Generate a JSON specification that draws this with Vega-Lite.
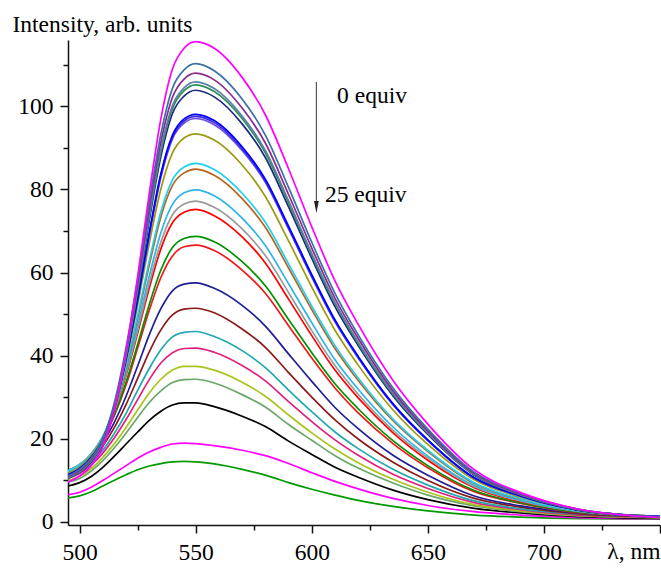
{
"$schema": "https://vega.github.io/schema/vega-lite/v6.json",
"width": 592, "height": 485,
"autosize": {"type": "none"},
"padding": {"left": 68, "top": 40, "right": 1, "bottom": 43},
"background": "white",
"config": {"view": {"stroke": null}, "font": "Liberation Serif, Times New Roman, serif"},
"datasets": {
"spectra": [
{"s":26,"x":495,"y":5.7},{"s":26,"x":500,"y":6.2},{"s":26,"x":505,"y":7.2},{"s":26,"x":510,"y":8.6},{"s":26,"x":515,"y":10.0},{"s":26,"x":520,"y":11.3},{"s":26,"x":525,"y":12.5},{"s":26,"x":530,"y":13.4},{"s":26,"x":535,"y":14.0},{"s":26,"x":540,"y":14.4},{"s":26,"x":545,"y":14.5},{"s":26,"x":550,"y":14.4},{"s":26,"x":558,"y":13.9},{"s":26,"x":570,"y":12.6},{"s":26,"x":580,"y":11.2},{"s":26,"x":590,"y":9.4},{"s":26,"x":600,"y":7.8},{"s":26,"x":610,"y":6.4},{"s":26,"x":620,"y":5.15},{"s":26,"x":635,"y":3.7},{"s":26,"x":650,"y":2.6},{"s":26,"x":670,"y":1.6},{"s":26,"x":690,"y":1.1},{"s":26,"x":715,"y":0.73},{"s":26,"x":750,"y":0.58},
{"s":25,"x":495,"y":6.5},{"s":25,"x":500,"y":7.1},{"s":25,"x":505,"y":8.3},{"s":25,"x":510,"y":9.9},{"s":25,"x":515,"y":11.7},{"s":25,"x":520,"y":13.5},{"s":25,"x":525,"y":15.3},{"s":25,"x":530,"y":16.8},{"s":25,"x":535,"y":17.9},{"s":25,"x":540,"y":18.7},{"s":25,"x":545,"y":18.9},{"s":25,"x":550,"y":18.8},{"s":25,"x":558,"y":18.3},{"s":25,"x":570,"y":17.2},{"s":25,"x":580,"y":15.9},{"s":25,"x":590,"y":14.0},{"s":25,"x":600,"y":11.8},{"s":25,"x":610,"y":9.7},{"s":25,"x":620,"y":7.9},{"s":25,"x":635,"y":5.6},{"s":25,"x":650,"y":3.9},{"s":25,"x":670,"y":2.4},{"s":25,"x":690,"y":1.6},{"s":25,"x":715,"y":1.0},{"s":25,"x":750,"y":0.7},
{"s":24,"x":495,"y":8.6},{"s":24,"x":500,"y":9.4},{"s":24,"x":505,"y":10.9},{"s":24,"x":510,"y":13.1},{"s":24,"x":515,"y":15.8},{"s":24,"x":520,"y":18.7},{"s":24,"x":525,"y":21.6},{"s":24,"x":530,"y":24.4},{"s":24,"x":535,"y":26.6},{"s":24,"x":540,"y":28.1},{"s":24,"x":545,"y":28.6},{"s":24,"x":550,"y":28.6},{"s":24,"x":558,"y":27.7},{"s":24,"x":570,"y":25.4},{"s":24,"x":580,"y":22.9},{"s":24,"x":590,"y":19.4},{"s":24,"x":600,"y":16.2},{"s":24,"x":610,"y":13.1},{"s":24,"x":620,"y":10.7},{"s":24,"x":635,"y":7.6},{"s":24,"x":650,"y":5.3},{"s":24,"x":670,"y":3.2},{"s":24,"x":690,"y":2.1},{"s":24,"x":715,"y":1.2},{"s":24,"x":750,"y":0.8},
{"s":23,"x":495,"y":9.5},{"s":23,"x":500,"y":10.4},{"s":23,"x":505,"y":12.2},{"s":23,"x":510,"y":14.7},{"s":23,"x":515,"y":17.8},{"s":23,"x":520,"y":21.3},{"s":23,"x":525,"y":25.1},{"s":23,"x":530,"y":28.7},{"s":23,"x":535,"y":31.5},{"s":23,"x":540,"y":33.5},{"s":23,"x":545,"y":34.2},{"s":23,"x":550,"y":34.3},{"s":23,"x":558,"y":33.4},{"s":23,"x":570,"y":30.6},{"s":23,"x":580,"y":27.6},{"s":23,"x":590,"y":23.4},{"s":23,"x":600,"y":19.6},{"s":23,"x":610,"y":15.9},{"s":23,"x":620,"y":12.9},{"s":23,"x":635,"y":9.3},{"s":23,"x":650,"y":6.4},{"s":23,"x":670,"y":3.8},{"s":23,"x":690,"y":2.4},{"s":23,"x":715,"y":1.4},{"s":23,"x":750,"y":1.0},
{"s":22,"x":495,"y":10.0},{"s":22,"x":500,"y":10.9},{"s":22,"x":505,"y":12.8},{"s":22,"x":510,"y":15.5},{"s":22,"x":515,"y":18.8},{"s":22,"x":520,"y":22.7},{"s":22,"x":525,"y":26.9},{"s":22,"x":530,"y":31.0},{"s":22,"x":535,"y":34.3},{"s":22,"x":540,"y":36.5},{"s":22,"x":545,"y":37.4},{"s":22,"x":550,"y":37.4},{"s":22,"x":558,"y":36.5},{"s":22,"x":570,"y":33.6},{"s":22,"x":580,"y":30.2},{"s":22,"x":590,"y":25.7},{"s":22,"x":600,"y":21.4},{"s":22,"x":610,"y":17.5},{"s":22,"x":620,"y":14.2},{"s":22,"x":635,"y":10.2},{"s":22,"x":650,"y":7.1},{"s":22,"x":670,"y":4.1},{"s":22,"x":690,"y":2.6},{"s":22,"x":715,"y":1.5},{"s":22,"x":750,"y":1.0},
{"s":21,"x":495,"y":10.5},{"s":21,"x":500,"y":11.6},{"s":21,"x":505,"y":13.6},{"s":21,"x":510,"y":16.5},{"s":21,"x":515,"y":20.2},{"s":21,"x":520,"y":24.6},{"s":21,"x":525,"y":29.4},{"s":21,"x":530,"y":34.2},{"s":21,"x":535,"y":38.2},{"s":21,"x":540,"y":40.7},{"s":21,"x":545,"y":41.7},{"s":21,"x":550,"y":41.8},{"s":21,"x":558,"y":40.8},{"s":21,"x":570,"y":37.6},{"s":21,"x":580,"y":33.9},{"s":21,"x":590,"y":28.9},{"s":21,"x":600,"y":24.1},{"s":21,"x":610,"y":19.7},{"s":21,"x":620,"y":16.0},{"s":21,"x":635,"y":11.4},{"s":21,"x":650,"y":8.0},{"s":21,"x":670,"y":4.6},{"s":21,"x":690,"y":2.9},{"s":21,"x":715,"y":1.6},{"s":21,"x":750,"y":1.1},
{"s":20,"x":495,"y":10.9},{"s":20,"x":500,"y":12.0},{"s":20,"x":505,"y":14.1},{"s":20,"x":510,"y":17.2},{"s":20,"x":515,"y":21.3},{"s":20,"x":520,"y":26.1},{"s":20,"x":525,"y":31.6},{"s":20,"x":530,"y":36.9},{"s":20,"x":535,"y":41.4},{"s":20,"x":540,"y":44.5},{"s":20,"x":545,"y":45.6},{"s":20,"x":550,"y":45.8},{"s":20,"x":558,"y":44.6},{"s":20,"x":570,"y":41.2},{"s":20,"x":580,"y":37.1},{"s":20,"x":590,"y":31.7},{"s":20,"x":600,"y":26.5},{"s":20,"x":610,"y":21.6},{"s":20,"x":620,"y":17.6},{"s":20,"x":635,"y":12.6},{"s":20,"x":650,"y":8.8},{"s":20,"x":670,"y":5.0},{"s":20,"x":690,"y":3.1},{"s":20,"x":715,"y":1.8},{"s":20,"x":750,"y":1.1},
{"s":19,"x":495,"y":11.5},{"s":19,"x":500,"y":12.7},{"s":19,"x":505,"y":14.8},{"s":19,"x":510,"y":18.2},{"s":19,"x":515,"y":22.7},{"s":19,"x":520,"y":28.2},{"s":19,"x":525,"y":34.5},{"s":19,"x":530,"y":40.9},{"s":19,"x":535,"y":46.2},{"s":19,"x":540,"y":49.8},{"s":19,"x":545,"y":51.2},{"s":19,"x":550,"y":51.4},{"s":19,"x":558,"y":50.3},{"s":19,"x":570,"y":46.4},{"s":19,"x":580,"y":42.0},{"s":19,"x":590,"y":35.9},{"s":19,"x":600,"y":30.0},{"s":19,"x":610,"y":24.5},{"s":19,"x":620,"y":19.9},{"s":19,"x":635,"y":14.3},{"s":19,"x":650,"y":9.9},{"s":19,"x":670,"y":5.6},{"s":19,"x":690,"y":3.5},{"s":19,"x":715,"y":1.9},{"s":19,"x":750,"y":1.2},
{"s":18,"x":495,"y":11.9},{"s":18,"x":500,"y":13.2},{"s":18,"x":505,"y":15.6},{"s":18,"x":510,"y":19.1},{"s":18,"x":515,"y":24.0},{"s":18,"x":520,"y":30.2},{"s":18,"x":525,"y":37.5},{"s":18,"x":530,"y":45.0},{"s":18,"x":535,"y":51.3},{"s":18,"x":540,"y":55.6},{"s":18,"x":545,"y":57.2},{"s":18,"x":550,"y":57.5},{"s":18,"x":558,"y":56.2},{"s":18,"x":570,"y":52.1},{"s":18,"x":580,"y":47.1},{"s":18,"x":590,"y":40.4},{"s":18,"x":600,"y":33.8},{"s":18,"x":610,"y":27.5},{"s":18,"x":620,"y":22.4},{"s":18,"x":635,"y":16.0},{"s":18,"x":650,"y":11.2},{"s":18,"x":670,"y":6.2},{"s":18,"x":690,"y":3.8},{"s":18,"x":715,"y":2.1},{"s":18,"x":750,"y":1.2},
{"s":17,"x":495,"y":12.3},{"s":17,"x":500,"y":13.6},{"s":17,"x":505,"y":16.1},{"s":17,"x":510,"y":19.9},{"s":17,"x":515,"y":25.6},{"s":17,"x":520,"y":32.9},{"s":17,"x":525,"y":41.8},{"s":17,"x":530,"y":50.9},{"s":17,"x":535,"y":58.8},{"s":17,"x":540,"y":64.0},{"s":17,"x":545,"y":66.2},{"s":17,"x":550,"y":66.6},{"s":17,"x":558,"y":65.3},{"s":17,"x":570,"y":60.6},{"s":17,"x":580,"y":55.0},{"s":17,"x":590,"y":47.2},{"s":17,"x":600,"y":39.4},{"s":17,"x":610,"y":32.2},{"s":17,"x":620,"y":26.2},{"s":17,"x":635,"y":18.8},{"s":17,"x":650,"y":13.0},{"s":17,"x":670,"y":7.2},{"s":17,"x":690,"y":4.4},{"s":17,"x":715,"y":2.2},{"s":17,"x":750,"y":1.3},
{"s":16,"x":495,"y":12.3},{"s":16,"x":500,"y":13.7},{"s":16,"x":505,"y":16.1},{"s":16,"x":510,"y":20.1},{"s":16,"x":515,"y":25.8},{"s":16,"x":520,"y":33.6},{"s":16,"x":525,"y":42.7},{"s":16,"x":530,"y":52.3},{"s":16,"x":535,"y":60.6},{"s":16,"x":540,"y":66.0},{"s":16,"x":545,"y":68.2},{"s":16,"x":550,"y":68.7},{"s":16,"x":558,"y":67.4},{"s":16,"x":570,"y":62.6},{"s":16,"x":580,"y":56.8},{"s":16,"x":590,"y":48.7},{"s":16,"x":600,"y":40.7},{"s":16,"x":610,"y":33.2},{"s":16,"x":620,"y":27.2},{"s":16,"x":635,"y":19.5},{"s":16,"x":650,"y":13.5},{"s":16,"x":670,"y":7.5},{"s":16,"x":690,"y":4.5},{"s":16,"x":715,"y":2.3},{"s":16,"x":750,"y":1.3},
{"s":15,"x":495,"y":12.3},{"s":15,"x":500,"y":13.7},{"s":15,"x":505,"y":16.3},{"s":15,"x":510,"y":20.4},{"s":15,"x":515,"y":26.7},{"s":15,"x":520,"y":35.2},{"s":15,"x":525,"y":45.4},{"s":15,"x":530,"y":56.2},{"s":15,"x":535,"y":65.7},{"s":15,"x":540,"y":72.0},{"s":15,"x":545,"y":74.5},{"s":15,"x":550,"y":75.2},{"s":15,"x":558,"y":73.7},{"s":15,"x":570,"y":68.6},{"s":15,"x":580,"y":62.3},{"s":15,"x":590,"y":53.6},{"s":15,"x":600,"y":44.8},{"s":15,"x":610,"y":36.5},{"s":15,"x":620,"y":29.8},{"s":15,"x":635,"y":21.4},{"s":15,"x":650,"y":14.8},{"s":15,"x":670,"y":8.2},{"s":15,"x":690,"y":4.8},{"s":15,"x":715,"y":2.5},{"s":15,"x":750,"y":1.3},
{"s":14,"x":495,"y":12.3},{"s":14,"x":500,"y":13.8},{"s":14,"x":505,"y":16.3},{"s":14,"x":510,"y":20.4},{"s":14,"x":515,"y":26.8},{"s":14,"x":520,"y":35.6},{"s":14,"x":525,"y":46.1},{"s":14,"x":530,"y":57.4},{"s":14,"x":535,"y":67.3},{"s":14,"x":540,"y":73.9},{"s":14,"x":545,"y":76.5},{"s":14,"x":550,"y":77.2},{"s":14,"x":558,"y":75.7},{"s":14,"x":570,"y":70.5},{"s":14,"x":580,"y":64.1},{"s":14,"x":590,"y":55.2},{"s":14,"x":600,"y":46.0},{"s":14,"x":610,"y":37.6},{"s":14,"x":620,"y":30.7},{"s":14,"x":635,"y":22.0},{"s":14,"x":650,"y":15.3},{"s":14,"x":670,"y":8.4},{"s":14,"x":690,"y":5.0},{"s":14,"x":715,"y":2.5},{"s":14,"x":750,"y":1.3},
{"s":13,"x":495,"y":12.3},{"s":13,"x":500,"y":13.7},{"s":13,"x":505,"y":16.3},{"s":13,"x":510,"y":20.5},{"s":13,"x":515,"y":27.1},{"s":13,"x":520,"y":36.2},{"s":13,"x":525,"y":47.2},{"s":13,"x":530,"y":59.1},{"s":13,"x":535,"y":69.6},{"s":13,"x":540,"y":76.4},{"s":13,"x":545,"y":79.2},{"s":13,"x":550,"y":79.9},{"s":13,"x":558,"y":78.5},{"s":13,"x":570,"y":73.1},{"s":13,"x":580,"y":66.5},{"s":13,"x":590,"y":57.3},{"s":13,"x":600,"y":47.9},{"s":13,"x":610,"y":39.0},{"s":13,"x":620,"y":31.9},{"s":13,"x":635,"y":22.8},{"s":13,"x":650,"y":15.8},{"s":13,"x":670,"y":8.7},{"s":13,"x":690,"y":5.1},{"s":13,"x":715,"y":2.5},{"s":13,"x":750,"y":1.3},
{"s":12,"x":495,"y":11.9},{"s":12,"x":500,"y":13.4},{"s":12,"x":505,"y":15.8},{"s":12,"x":510,"y":20.1},{"s":12,"x":515,"y":27.1},{"s":12,"x":520,"y":36.9},{"s":12,"x":525,"y":48.9},{"s":12,"x":530,"y":61.8},{"s":12,"x":535,"y":73.4},{"s":12,"x":540,"y":81.0},{"s":12,"x":545,"y":84.0},{"s":12,"x":550,"y":84.9},{"s":12,"x":558,"y":83.4},{"s":12,"x":570,"y":77.8},{"s":12,"x":580,"y":70.9},{"s":12,"x":590,"y":61.1},{"s":12,"x":600,"y":51.1},{"s":12,"x":610,"y":41.7},{"s":12,"x":620,"y":34.0},{"s":12,"x":635,"y":24.3},{"s":12,"x":650,"y":16.9},{"s":12,"x":670,"y":9.2},{"s":12,"x":690,"y":5.4},{"s":12,"x":715,"y":2.6},{"s":12,"x":750,"y":1.3},
{"s":11,"x":495,"y":12.1},{"s":11,"x":500,"y":13.6},{"s":11,"x":505,"y":16.1},{"s":11,"x":510,"y":20.4},{"s":11,"x":515,"y":27.5},{"s":11,"x":520,"y":37.5},{"s":11,"x":525,"y":49.7},{"s":11,"x":530,"y":62.8},{"s":11,"x":535,"y":74.6},{"s":11,"x":540,"y":82.3},{"s":11,"x":545,"y":85.4},{"s":11,"x":550,"y":86.3},{"s":11,"x":558,"y":84.8},{"s":11,"x":570,"y":79.1},{"s":11,"x":580,"y":72.1},{"s":11,"x":590,"y":62.1},{"s":11,"x":600,"y":51.9},{"s":11,"x":610,"y":42.4},{"s":11,"x":620,"y":34.6},{"s":11,"x":635,"y":24.7},{"s":11,"x":650,"y":17.2},{"s":11,"x":670,"y":9.4},{"s":11,"x":690,"y":5.5},{"s":11,"x":715,"y":2.6},{"s":11,"x":750,"y":1.3},
{"s":10,"x":495,"y":11.6},{"s":10,"x":500,"y":13.2},{"s":10,"x":505,"y":15.9},{"s":10,"x":510,"y":20.2},{"s":10,"x":515,"y":27.7},{"s":10,"x":520,"y":38.6},{"s":10,"x":525,"y":52.2},{"s":10,"x":530,"y":67.0},{"s":10,"x":535,"y":80.1},{"s":10,"x":540,"y":88.8},{"s":10,"x":545,"y":92.4},{"s":10,"x":550,"y":93.4},{"s":10,"x":558,"y":91.9},{"s":10,"x":570,"y":85.9},{"s":10,"x":580,"y":78.3},{"s":10,"x":590,"y":67.6},{"s":10,"x":600,"y":56.5},{"s":10,"x":610,"y":46.1},{"s":10,"x":620,"y":37.7},{"s":10,"x":635,"y":26.9},{"s":10,"x":650,"y":18.6},{"s":10,"x":670,"y":10.1},{"s":10,"x":690,"y":5.9},{"s":10,"x":715,"y":2.8},{"s":10,"x":750,"y":1.2},
{"s":9,"x":495,"y":11.2},{"s":9,"x":500,"y":12.7},{"s":9,"x":505,"y":15.3},{"s":9,"x":510,"y":19.7},{"s":9,"x":515,"y":27.5},{"s":9,"x":520,"y":38.9},{"s":9,"x":525,"y":53.2},{"s":9,"x":530,"y":68.9},{"s":9,"x":535,"y":82.9},{"s":9,"x":540,"y":92.2},{"s":9,"x":545,"y":96.0},{"s":9,"x":550,"y":97.1},{"s":9,"x":558,"y":95.6},{"s":9,"x":570,"y":89.4},{"s":9,"x":580,"y":81.7},{"s":9,"x":590,"y":70.5},{"s":9,"x":600,"y":58.9},{"s":9,"x":610,"y":48.1},{"s":9,"x":620,"y":39.4},{"s":9,"x":635,"y":28.1},{"s":9,"x":650,"y":19.5},{"s":9,"x":670,"y":10.5},{"s":9,"x":690,"y":6.1},{"s":9,"x":715,"y":2.8},{"s":9,"x":750,"y":1.2},
{"s":8,"x":495,"y":11.2},{"s":8,"x":500,"y":12.7},{"s":8,"x":505,"y":15.4},{"s":8,"x":510,"y":19.8},{"s":8,"x":515,"y":27.7},{"s":8,"x":520,"y":39.1},{"s":8,"x":525,"y":53.4},{"s":8,"x":530,"y":69.2},{"s":8,"x":535,"y":83.4},{"s":8,"x":540,"y":92.6},{"s":8,"x":545,"y":96.5},{"s":8,"x":550,"y":97.6},{"s":8,"x":558,"y":96.1},{"s":8,"x":570,"y":89.8},{"s":8,"x":580,"y":82.1},{"s":8,"x":590,"y":70.8},{"s":8,"x":600,"y":59.2},{"s":8,"x":610,"y":48.4},{"s":8,"x":620,"y":39.6},{"s":8,"x":635,"y":28.3},{"s":8,"x":650,"y":19.6},{"s":8,"x":670,"y":10.5},{"s":8,"x":690,"y":6.2},{"s":8,"x":715,"y":2.8},{"s":8,"x":750,"y":1.2},
{"s":7,"x":495,"y":11.3},{"s":7,"x":500,"y":12.8},{"s":7,"x":505,"y":15.5},{"s":7,"x":510,"y":19.9},{"s":7,"x":515,"y":27.8},{"s":7,"x":520,"y":39.3},{"s":7,"x":525,"y":53.7},{"s":7,"x":530,"y":69.6},{"s":7,"x":535,"y":83.8},{"s":7,"x":540,"y":93.1},{"s":7,"x":545,"y":97.0},{"s":7,"x":550,"y":98.1},{"s":7,"x":558,"y":96.6},{"s":7,"x":570,"y":90.3},{"s":7,"x":580,"y":82.5},{"s":7,"x":590,"y":71.2},{"s":7,"x":600,"y":59.5},{"s":7,"x":610,"y":48.6},{"s":7,"x":620,"y":39.8},{"s":7,"x":635,"y":28.4},{"s":7,"x":650,"y":19.7},{"s":7,"x":670,"y":10.6},{"s":7,"x":690,"y":6.2},{"s":7,"x":715,"y":2.8},{"s":7,"x":750,"y":1.2},
{"s":6,"x":495,"y":10.4},{"s":6,"x":500,"y":11.9},{"s":6,"x":505,"y":14.4},{"s":6,"x":510,"y":18.8},{"s":6,"x":515,"y":27.1},{"s":6,"x":520,"y":39.4},{"s":6,"x":525,"y":55.1},{"s":6,"x":530,"y":72.5},{"s":6,"x":535,"y":87.9},{"s":6,"x":540,"y":98.3},{"s":6,"x":545,"y":102.5},{"s":6,"x":550,"y":103.9},{"s":6,"x":558,"y":102.3},{"s":6,"x":570,"y":95.8},{"s":6,"x":580,"y":87.7},{"s":6,"x":590,"y":75.8},{"s":6,"x":600,"y":63.4},{"s":6,"x":610,"y":51.8},{"s":6,"x":620,"y":42.4},{"s":6,"x":635,"y":30.3},{"s":6,"x":650,"y":21.0},{"s":6,"x":670,"y":11.2},{"s":6,"x":690,"y":6.4},{"s":6,"x":715,"y":2.8},{"s":6,"x":750,"y":1.1},
{"s":5,"x":495,"y":10.5},{"s":5,"x":500,"y":12.0},{"s":5,"x":505,"y":14.6},{"s":5,"x":510,"y":19.1},{"s":5,"x":515,"y":27.4},{"s":5,"x":520,"y":39.9},{"s":5,"x":525,"y":55.8},{"s":5,"x":530,"y":73.4},{"s":5,"x":535,"y":89.0},{"s":5,"x":540,"y":99.5},{"s":5,"x":545,"y":103.8},{"s":5,"x":550,"y":105.2},{"s":5,"x":558,"y":103.6},{"s":5,"x":570,"y":97.1},{"s":5,"x":580,"y":88.8},{"s":5,"x":590,"y":76.8},{"s":5,"x":600,"y":64.2},{"s":5,"x":610,"y":52.5},{"s":5,"x":620,"y":42.9},{"s":5,"x":635,"y":30.7},{"s":5,"x":650,"y":21.3},{"s":5,"x":670,"y":11.3},{"s":5,"x":690,"y":6.5},{"s":5,"x":715,"y":2.9},{"s":5,"x":750,"y":1.1},
{"s":4,"x":495,"y":10.6},{"s":4,"x":500,"y":12.1},{"s":4,"x":505,"y":14.7},{"s":4,"x":510,"y":19.2},{"s":4,"x":515,"y":27.6},{"s":4,"x":520,"y":40.2},{"s":4,"x":525,"y":56.2},{"s":4,"x":530,"y":73.9},{"s":4,"x":535,"y":89.6},{"s":4,"x":540,"y":100.2},{"s":4,"x":545,"y":104.5},{"s":4,"x":550,"y":105.9},{"s":4,"x":558,"y":104.3},{"s":4,"x":570,"y":97.7},{"s":4,"x":580,"y":89.4},{"s":4,"x":590,"y":77.3},{"s":4,"x":600,"y":64.6},{"s":4,"x":610,"y":52.8},{"s":4,"x":620,"y":43.2},{"s":4,"x":635,"y":30.9},{"s":4,"x":650,"y":21.4},{"s":4,"x":670,"y":11.4},{"s":4,"x":690,"y":6.5},{"s":4,"x":715,"y":2.9},{"s":4,"x":750,"y":1.1},
{"s":3,"x":495,"y":10.8},{"s":3,"x":500,"y":12.3},{"s":3,"x":505,"y":15.0},{"s":3,"x":510,"y":19.6},{"s":3,"x":515,"y":28.1},{"s":3,"x":520,"y":41.0},{"s":3,"x":525,"y":57.3},{"s":3,"x":530,"y":75.4},{"s":3,"x":535,"y":91.4},{"s":3,"x":540,"y":102.2},{"s":3,"x":545,"y":106.6},{"s":3,"x":550,"y":108.0},{"s":3,"x":558,"y":106.4},{"s":3,"x":570,"y":99.6},{"s":3,"x":580,"y":91.2},{"s":3,"x":590,"y":78.8},{"s":3,"x":600,"y":65.9},{"s":3,"x":610,"y":53.8},{"s":3,"x":620,"y":44.1},{"s":3,"x":635,"y":31.5},{"s":3,"x":650,"y":21.8},{"s":3,"x":670,"y":11.6},{"s":3,"x":690,"y":6.6},{"s":3,"x":715,"y":3.0},{"s":3,"x":750,"y":1.1},
{"s":2,"x":495,"y":11.0},{"s":2,"x":500,"y":12.6},{"s":2,"x":505,"y":15.3},{"s":2,"x":510,"y":20.0},{"s":2,"x":515,"y":28.7},{"s":2,"x":520,"y":41.9},{"s":2,"x":525,"y":58.5},{"s":2,"x":530,"y":77.0},{"s":2,"x":535,"y":93.3},{"s":2,"x":540,"y":104.4},{"s":2,"x":545,"y":108.8},{"s":2,"x":550,"y":110.3},{"s":2,"x":558,"y":108.6},{"s":2,"x":570,"y":101.8},{"s":2,"x":580,"y":93.1},{"s":2,"x":590,"y":80.5},{"s":2,"x":600,"y":67.3},{"s":2,"x":610,"y":55.0},{"s":2,"x":620,"y":45.0},{"s":2,"x":635,"y":32.2},{"s":2,"x":650,"y":22.3},{"s":2,"x":670,"y":11.9},{"s":2,"x":690,"y":6.8},{"s":2,"x":715,"y":3.0},{"s":2,"x":750,"y":1.1},
{"s":1,"x":495,"y":9.5},{"s":1,"x":500,"y":11.0},{"s":1,"x":505,"y":13.5},{"s":1,"x":510,"y":18.0},{"s":1,"x":515,"y":27.0},{"s":1,"x":520,"y":41.0},{"s":1,"x":525,"y":59.0},{"s":1,"x":530,"y":79.0},{"s":1,"x":535,"y":97.0},{"s":1,"x":540,"y":109.0},{"s":1,"x":545,"y":114.0},{"s":1,"x":550,"y":115.6},{"s":1,"x":558,"y":114.0},{"s":1,"x":570,"y":107.0},{"s":1,"x":580,"y":98.0},{"s":1,"x":590,"y":85.0},{"s":1,"x":600,"y":71.0},{"s":1,"x":610,"y":58.0},{"s":1,"x":620,"y":47.5},{"s":1,"x":635,"y":34.0},{"s":1,"x":650,"y":23.5},{"s":1,"x":670,"y":12.5},{"s":1,"x":690,"y":7.0},{"s":1,"x":715,"y":3.0},{"s":1,"x":750,"y":1.0}
],
"arrow": [{"x": 602, "y": 105.9, "y2": 76.5, "yh": 75.8}],
"labels": [{"x": 610.9, "y": 100.8, "t": "0 equiv"}, {"x": 605.7, "y": 77.05, "t": "25 equiv"}]
},
"layer": [
{
"data": {"name": "spectra"},
"mark": {"type": "line", "interpolate": "monotone", "strokeWidth": 1.7, "clip": true},
"encoding": {
"x": {"field": "x", "type": "quantitative", "scale": {"domain": [495, 750], "nice": false, "zero": false},
 "axis": {"orient": "bottom", "values": [500, 550, 600, 650, 700, 750], "labelExpr": "datum.value == 750 ? '' : datum.label", "grid": false, "tickSize": 8, "tickWidth": 1.5, "tickColor": "#111", "domainColor": "#111", "domainWidth": 1.5, "labelFont": "Liberation Serif, Times New Roman, serif", "labelFontSize": 23.5, "labelColor": "#000", "labelPadding": 7, "labelFlush": false, "labelOverlap": false, "title": "λ, nm", "titleX": 592, "titleY": 33.6, "titleAlign": "right", "titleBaseline": "alphabetic", "titleAnchor": "end", "titleFont": "Liberation Serif, Times New Roman, serif", "titleFontSize": 23.5, "titleFontWeight": "normal", "titleColor": "#000"}},
"y": {"field": "y", "type": "quantitative", "scale": {"domain": [-0.8, 116], "nice": false, "zero": false},
 "axis": {"orient": "left", "values": [0, 20, 40, 60, 80, 100], "grid": false, "tickSize": 8, "tickWidth": 1.5, "tickColor": "#111", "domainColor": "#111", "domainWidth": 1.5, "labelFont": "Liberation Serif, Times New Roman, serif", "labelFontSize": 23.5, "labelColor": "#000", "labelPadding": 7, "labelFlush": false, "labelOverlap": false, "title": "Intensity, arb. units", "titleAngle": 0, "titleX": -56, "titleY": -9, "titleAlign": "left", "titleBaseline": "alphabetic", "titleAnchor": "start", "titleFont": "Liberation Serif, Times New Roman, serif", "titleFontSize": 23.5, "titleFontWeight": "normal", "titleColor": "#000"}},
"color": {"field": "s", "type": "nominal", "legend": null, "sort": null,
 "scale": {"domain": [26,25,24,23,22,21,20,19,18,17,16,15,14,13,12,11,10,9,8,7,6,5,4,3,2,1],
 "range": ["#009A00","#FF00FF","#000000","#6AA86A","#A8C41C","#E0207A","#20A8B0","#8B1A1A","#1E1E96","#F01818","#009000","#FF0000","#9A9A9A","#2EB4E6","#B8641E","#20D0F0","#9C9A10","#6A4CE0","#3A2BE0","#0000FF","#1B2A80","#2E8B57","#5B7FA6","#8B2A8B","#3A6FA8","#FF00FF"]}}
}
},
{
"data": {"name": "arrow"},
"mark": {"type": "rule", "color": "#555555", "strokeWidth": 1.2},
"encoding": {
"x": {"field": "x", "type": "quantitative", "scale": {"domain": [495, 750], "nice": false, "zero": false},
 "axis": {"orient": "bottom", "values": [525, 575, 625, 675, 725], "labels": false, "domain": false, "grid": false, "tickSize": 5, "tickWidth": 1.5, "tickColor": "#111", "title": null}},
"y": {"field": "y", "type": "quantitative", "scale": {"domain": [-0.8, 116], "nice": false, "zero": false},
 "axis": {"orient": "left", "values": [10, 30, 50, 70, 90, 110], "labels": false, "domain": false, "grid": false, "tickSize": 5, "tickWidth": 1.5, "tickColor": "#111", "title": null}},
"y2": {"field": "y2"}
}
},
{
"data": {"name": "arrow"},
"mark": {"type": "point", "shape": "M-0.4,-1L0,1L0.4,-1Z", "filled": true, "color": "#222222", "size": 144, "opacity": 1},
"encoding": {
"x": {"field": "x", "type": "quantitative", "scale": {"domain": [495, 750], "nice": false, "zero": false}, "axis": null},
"y": {"field": "yh", "type": "quantitative", "scale": {"domain": [-0.8, 116], "nice": false, "zero": false}, "axis": null}
}
},
{
"data": {"name": "labels"},
"mark": {"type": "text", "align": "left", "baseline": "alphabetic", "font": "Liberation Serif, Times New Roman, serif", "fontSize": 23.5, "color": "#000"},
"encoding": {
"x": {"field": "x", "type": "quantitative", "scale": {"domain": [495, 750], "nice": false, "zero": false}, "axis": null},
"y": {"field": "y", "type": "quantitative", "scale": {"domain": [-0.8, 116], "nice": false, "zero": false}, "axis": null},
"text": {"field": "t"}
}
}
],
"resolve": {"axis": {"x": "independent", "y": "independent"}}
}
